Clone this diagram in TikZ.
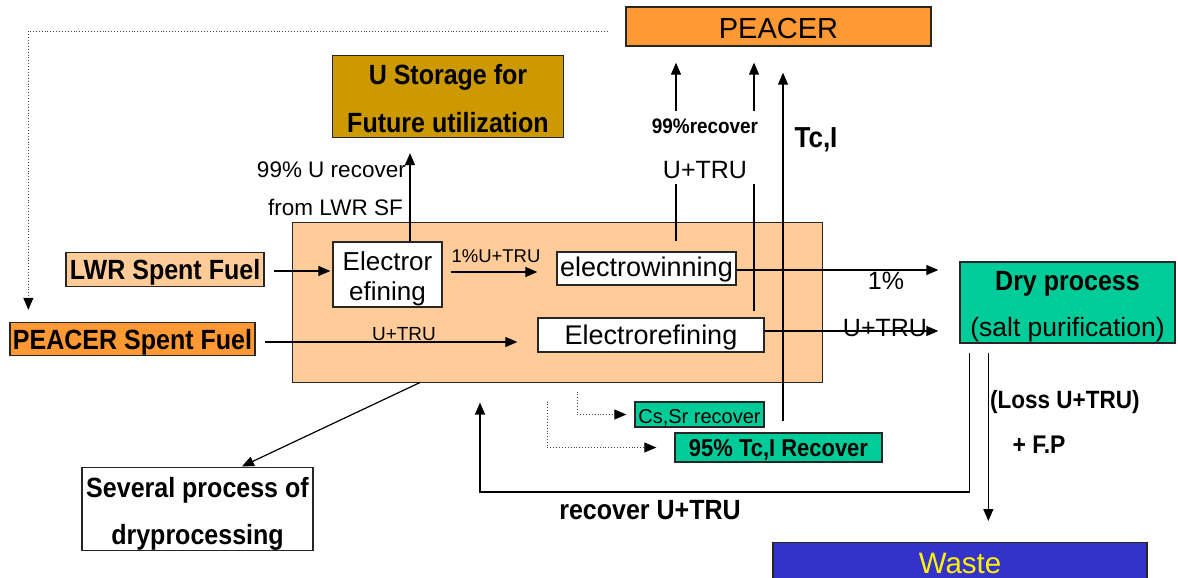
\documentclass[tikz,border=0pt]{standalone}
\usepackage{fontspec}
\setmainfont{Liberation Sans}[BoldFeatures={FakeStretch=0.9}]
\usetikzlibrary{arrows.meta}
\definecolor{peacerorange}{RGB}{255,153,51}
\definecolor{peach}{RGB}{255,204,153}
\definecolor{gold}{RGB}{204,153,0}
\definecolor{seagreen}{RGB}{0,204,153}
\definecolor{wasteblue}{RGB}{51,51,204}
\newcommand\setfs[2]{\fontsize{#1}{#2}\selectfont}
\newcommand\topstrut[1]{\rule{0pt}{#1}}
\begin{document}
\begin{tikzpicture}[x=1pt,y=-1pt,
  box/.style={draw=black!85, line width=1.3pt, inner sep=0pt, align=center},
  arr/.style={line width=1.2pt, -{Triangle[length=12pt,width=10pt]}},
  plain/.style={line width=1.2pt},
  dotline/.style={line width=0.9pt, dotted, draw=black!75, -{Triangle[length=12pt,width=10pt,color=black]}},
  lbl/.style={inner sep=0pt, align=center}
]
\useasboundingbox (0,0) rectangle (1178,578);
\clip (0,0) rectangle (1178,578);

% top targets
\node[box, fill=peacerorange, minimum width=305pt, minimum height=39pt, text height=25pt, text depth=0pt, font=\setfs{29}{32}] (peacer) at (778.5,26.5) {PEACER};
\node[box, fill=gold, minimum width=231pt, minimum height=82pt, font=\bfseries\setfs{27.8}{48}] (ustore) at (448,96.5) {\topstrut{24pt}U Storage for\\Future utilization};

% main process block
\node[box, fill=peach, line width=1pt, minimum width=530pt, minimum height=160pt] (peach) at (557,302) {};
\node[box, fill=white, minimum width=109pt, minimum height=65pt, font=\setfs{26}{30}] (electror) at (387.5,274.5) {\topstrut{27pt}Electror\\efining};
\node[box, fill=white, minimum width=179pt, minimum height=33pt, text depth=3pt, font=\setfs{27}{30}] (ewin) at (646.5,268.5) {electrowinning};
\node[box, fill=white, minimum width=226pt, minimum height=34pt, text depth=0pt, font=\setfs{27}{30}] (eref) at (651,335) {Electrorefining};

% feeds
\node[box, fill=peach, minimum width=198pt, minimum height=34pt, text depth=0pt, font=\bfseries\setfs{27.8}{30}] (lwr) at (165,269.5) {LWR Spent Fuel};
\node[box, fill=peacerorange, minimum width=245pt, minimum height=33pt, text depth=0pt, font=\bfseries\setfs{27.8}{30}] (psf) at (132.5,339) {PEACER Spent Fuel};

% downstream boxes
\node[box, fill=seagreen, minimum width=215pt, minimum height=81pt, font=\setfs{26.5}{46}] (dry) at (1067.5,302.5) {\topstrut{26.7pt}{\bfseries\setfs{27.8}{46}Dry process}\\(salt purification)};
\node[box, fill=white, minimum width=231pt, minimum height=82pt, font=\bfseries\setfs{27.8}{47}] (several) at (197.5,509) {\topstrut{30pt}Several process of\\dryprocessing};
\node[box, fill=seagreen, minimum width=129pt, minimum height=25pt, text height=17pt, text depth=0pt, font=\setfs{20}{24}] (cssr) at (699.5,414.5) {Cs,Sr recover};
\node[box, fill=seagreen, minimum width=207pt, minimum height=29pt, text depth=0pt, font=\bfseries\setfs{24.4}{26}] (tci) at (778.5,447.5) {95\% Tc,I Recover};
\node[box, fill=wasteblue, anchor=north, minimum width=374pt, text height=31pt, text depth=20pt, inner ysep=0pt, text=yellow, font=\setfs{29.5}{34}] (waste) at (960,542) {Waste};

% labels
\node[lbl, anchor=east, font=\setfs{22.5}{26}] (l99u) at (406,170) {99\% U recover};
\node[lbl, anchor=east, font=\setfs{22.5}{26}] (lfrom) at (403,207) {from LWR SF};
\node[lbl, font=\setfs{18.5}{22}] (l1u) at (496,256) {1\%U+TRU};
\node[lbl, font=\setfs{19}{22}] (lutl) at (404,334) {U+TRU};
\node[lbl, font=\bfseries\setfs{21}{24}] (l99r) at (705,126) {99\%recover};
\node[lbl, font=\setfs{25}{28}] (lutu) at (705,170) {U+TRU};
\node[lbl, font=\bfseries\setfs{28.9}{30}] (ltci) at (816,140) {Tc,I};
\node[lbl, font=\setfs{25}{28}] (l1p) at (886,281) {1\%};
\node[lbl, font=\setfs{25}{28}] (lutr) at (885,328) {U+TRU};
\node[lbl, anchor=west, font=\bfseries\setfs{25}{28}] (lloss) at (990,402) {(Loss U+TRU)};
\node[lbl, font=\bfseries\setfs{25.5}{28}] (lfp) at (1039,445) {+ F.P};
\node[lbl, font=\bfseries\setfs{27.8}{30}] (lrec) at (650,510) {recover U+TRU};

% flow lines
\coordinate (dstart) at (608,31);
\draw[dotline, shorten >=12pt] (dstart) -| ([xshift=19pt]psf.north west);

\draw[arr, shorten <=9pt, shorten >=2pt] (lwr.east |- 0,271) -- (electror.west |- 0,271);
\draw[arr, shorten >=15pt] ([xshift=22.5pt]electror.north) -- ([xshift=22.5pt]electror.north |- ustore.south);
\draw[arr, shorten <=8pt, shorten >=19pt] (electror.east |- 0,272) -- (ewin.west |- 0,272);
\draw[arr, shorten >=21pt] (ewin.east |- 0,270) -- (dry.west |- 0,270);
\draw[arr, shorten >=21pt] (eref.east |- 0,331) -- (dry.west |- 0,331);
\draw[arr, shorten <=9pt, shorten >=20pt] (psf.east |- 0,342) -- (eref.west |- 0,342);

% returns to PEACER
\coordinate (a1) at (676,184);
\coordinate (a2) at (676,111);
\coordinate (b1) at (754,184);
\coordinate (b2) at (754,111);
\draw[plain, shorten <=10pt] ([xshift=29.5pt]ewin.north) -- (a1);
\draw[arr, shorten >=16pt] (a2) -- (a2 |- peacer.south);
\draw[plain, shorten <=6pt] ([xshift=103pt]eref.north) -- (b1);
\draw[arr, shorten >=16pt] (b2) -- (b2 |- peacer.south);
\draw[arr, shorten <=11pt, shorten >=26pt] ([xshift=4.5pt]tci.north) -- ([xshift=4.5pt]tci.north |- peacer.south);

% below the block
\draw[arr, shorten >=1pt] ([xshift=-137pt]peach.south) -- ([xshift=43.5pt]several.north);
\coordinate (loopc) at (480,492);
\draw[arr, shorten <=9pt, shorten >=20pt] ([xshift=10pt]dry.south west) |- (loopc) -- (loopc |- peach.south);
\draw[arr, shorten <=9pt, shorten >=21pt] ([xshift=29pt]dry.south west) -- ([xshift=29pt]dry.south west |- waste.north);
\draw[dotline, shorten <=9pt, shorten >=8pt] ([xshift=20pt]peach.south) |- (cssr.west);
\draw[dotline, shorten <=19pt, shorten >=18pt] ([xshift=-10pt]peach.south) |- (tci.west);
\end{tikzpicture}
\end{document}
